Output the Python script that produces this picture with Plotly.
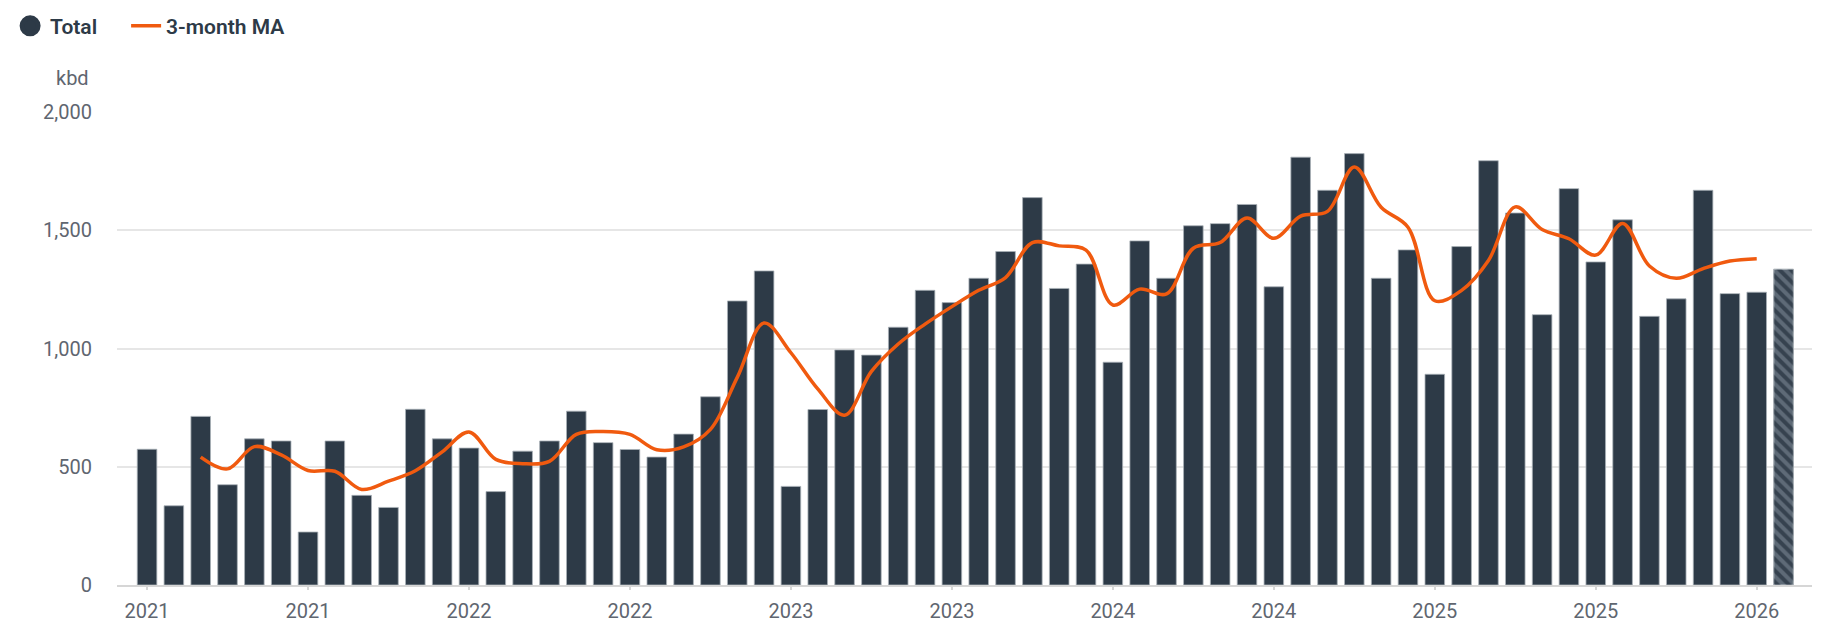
import plotly.graph_objects as go
import pandas as pd

# ---- data ----
months = [d.strftime("%b %Y") for d in pd.date_range("2021-01-01", periods=62, freq="MS")]

total = [574, 335, 713, 424, 618, 609, 224, 609, 379, 328,
         743, 618, 579, 395, 566, 609, 735, 602, 573, 541,
         638, 796, 1201, 1328, 417, 742, 994, 972, 1090, 1246,
         1194, 1297, 1410, 1638, 1254, 1357, 942, 1455, 1297, 1519,
         1528, 1609, 1261, 1809, 1669, 1824, 1297, 1417, 891, 1431,
         1794, 1573, 1143, 1676, 1366, 1544, 1136, 1210, 1669, 1232,
         1238, 1335]

ma3 = [None, None, 541, 491, 585, 550, 484, 481, 404, 439,
       483, 563, 647, 531, 513, 523, 637, 649, 637, 572,
       584, 658, 878, 1108, 982, 829, 718, 903, 1019, 1103,
       1177, 1246, 1300, 1448, 1434, 1416, 1184, 1251, 1231, 1424,
       1448, 1552, 1466, 1560, 1580, 1767, 1597, 1513, 1202, 1246,
       1372, 1599, 1503, 1464, 1395, 1529, 1349, 1297, 1338, 1370,
       1380, None]

partial_month = "Feb 2026"  # last (incomplete) month, drawn hatched

tick_months = ["Jan 2021", "Jul 2021", "Jan 2022", "Jul 2022", "Jan 2023", "Jul 2023",
               "Jan 2024", "Jul 2024", "Jan 2025", "Jul 2025", "Jan 2026"]
tick_labels = ["2021", "2021", "2022", "2022", "2023", "2023",
               "2024", "2024", "2025", "2025", "2026"]

y_ticks = [0, 500, 1000, 1500, 2000]
y_unit = "kbd"

# ---- styling ----
BAR = "#2d3a47"
HATCH_BG = "#5e6a77"
HATCH_FG = "#36424f"
ORANGE = "#f05a0f"
FONT = "Roboto"

colors = [HATCH_BG if m == partial_month else BAR for m in months]
hatch_y = [v if m == partial_month else None for m, v in zip(months, total)]

fig = go.Figure()

fig.add_trace(go.Bar(
    x=months, y=total, name="Total", showlegend=False,
    marker=dict(color=colors, line=dict(color="#aab1b8", width=0.8)),
    width=0.73,
    hoverinfo="x+y",
))

# diagonal hatching drawn over the incomplete month
fig.add_trace(go.Bar(
    x=months, y=hatch_y, name="Total (partial)", showlegend=False,
    marker=dict(color="rgba(0,0,0,0)", line=dict(color="#aab1b8", width=0.8),
                pattern=dict(shape="\\", fgcolor=HATCH_FG, bgcolor="rgba(0,0,0,0)",
                             fgopacity=1, size=8, solidity=0.5, fillmode="replace")),
    width=0.73,
    hoverinfo="skip",
))

# legend entry for the bars (circle symbol, as in the reference)
fig.add_trace(go.Scatter(
    x=[None], y=[None], mode="markers", name="Total", legendwidth=71,
    marker=dict(symbol="circle", size=16, color=BAR, line=dict(color=BAR, width=5)),
))

fig.add_trace(go.Scatter(
    x=months, y=ma3, mode="lines", name="3-month MA",
    line=dict(color=ORANGE, width=3.5, shape="spline", smoothing=1.0),
    connectgaps=False,
))

fig.update_layout(
    width=1837, height=631,
    barmode="overlay",
    margin=dict(l=117, r=25, t=112, b=46, autoexpand=False),
    paper_bgcolor="white", plot_bgcolor="white",
    font=dict(family=FONT, size=20, color="#5f6670"),
    showlegend=True,
    legend=dict(orientation="h", xref="container", yref="container",
                x=0.0055, xanchor="left", y=0.991, yanchor="top",
                font=dict(family=FONT, size=21, color="#2d3a47", weight=600),
                itemwidth=30, traceorder="normal",
                bgcolor="rgba(0,0,0,0)"),
    annotations=[dict(text=y_unit, xref="paper", yref="paper",
                      x=-0.0153, y=1.072, xanchor="right", yanchor="middle",
                      showarrow=False, font=dict(family=FONT, size=20, color="#5f6670"))],
)

fig.update_xaxes(
    type="category", categoryorder="array", categoryarray=months,
    range=[-1.12, 62.06],
    tickmode="array", tickvals=tick_months, ticktext=tick_labels,
    showgrid=False, showline=True, linecolor="#d6d6d6", linewidth=1.5,
    ticks="outside", ticklen=3, tickcolor="#d6d6d6", tickwidth=1.5,
    ticklabelstandoff=4,
    tickfont=dict(family=FONT, size=20, color="#5f6670"),
    automargin=False,
)

fig.update_yaxes(
    range=[0, 2000], tickmode="array", tickvals=y_ticks,
    tickformat=",", showgrid=True, gridcolor="#e6e6e6", gridwidth=1.5,
    zeroline=False, showline=False, ticks="",
    ticklabelstandoff=24,
    tickfont=dict(family=FONT, size=20, color="#5f6670"),
    automargin=False,
)

fig.write_html("out.html", config={"displayModeBar": False},
               post_script="document.body.style.margin='0';")
